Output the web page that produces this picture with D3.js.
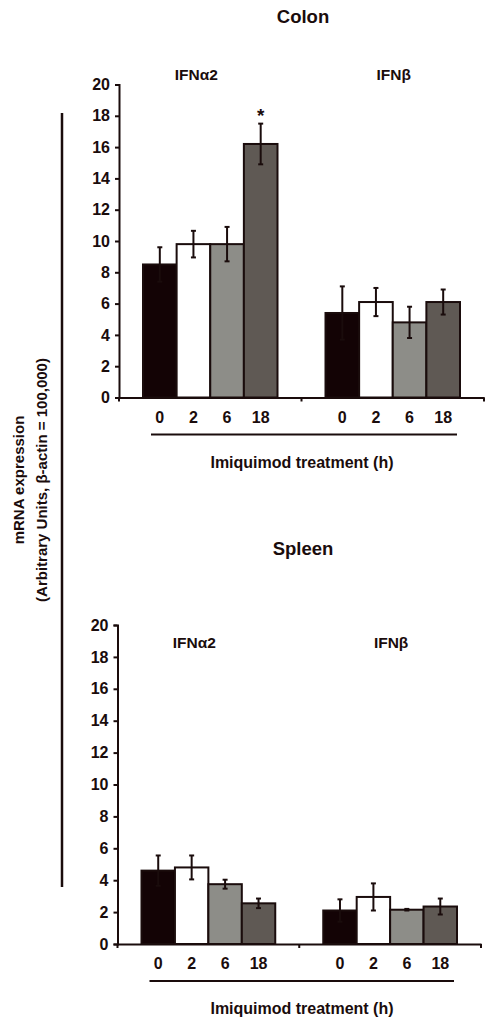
<!DOCTYPE html>
<html><head><meta charset="utf-8">
<script src="https://cdn.jsdelivr.net/npm/d3@7"></script>
<style>
body{margin:0;background:#fff;}
text{font-family:"Liberation Sans",Arial,sans-serif;font-weight:bold;fill:#1a0c0c;}
</style></head><body>
<svg id="c" width="490" height="1020"></svg>
<script>
const times = ["0","2","6","18"];
const genes = ["IFN\u03b12","IFN\u03b2"];
const yTicks = [0,2,4,6,8,10,12,14,16,18,20];
const colonAlpha = [8.5, 9.8, 9.8, 16.2];
const colonAlphaErr = [1.1, 0.85, 1.1, 1.3];
const colonBeta = [5.4, 6.1, 4.8, 6.1];
const colonBetaErr = [1.7, 0.9, 1.0, 0.8];
const spleenAlpha = [4.6, 4.8, 3.75, 2.55];
const spleenAlphaErr = [0.95, 0.75, 0.28, 0.3];
const spleenBeta = [2.1, 2.95, 2.15, 2.35];
const spleenBetaErr = [0.7, 0.85, 0.05, 0.5];
const colonSig = [false, false, false, true];
const fills = ["#130305", "#ffffff", "#8d8d88", "#5f5954"];
const ink = "#1a0c0c";

const svg = d3.select("#c");
const geneOffsets = [-14, 1];

function panel(cfg){
  const g = svg.append("g");
  const y = d3.scaleLinear().domain([0,20]).range([cfg.y0, cfg.y20]);
  const x = d3.scaleBand().domain(genes).range([cfg.xl, cfg.xr]).paddingInner(0).paddingOuter(0);
  const xb = d3.scaleBand().domain(times).range([24, x.bandwidth()-24]);
  // y axis
  const ya = g.append("g").attr("transform",`translate(${cfg.xl},0)`)
    .call(d3.axisLeft(y).tickValues(yTicks).tickSize(4).tickPadding(5));
  ya.select(".domain").attr("stroke",ink).attr("stroke-width",2);
  ya.selectAll(".tick line").attr("stroke",ink).attr("stroke-width",2);
  ya.selectAll(".tick text").attr("font-size",16).attr("font-family","Liberation Sans, Arial").attr("font-weight","bold").attr("fill",ink);
  // x axis
  const xa = g.append("g").attr("transform",`translate(0,${cfg.y0})`)
    .call(d3.axisBottom(x).tickValues([]).tickSizeOuter(0));
  xa.select(".domain").attr("stroke",ink).attr("stroke-width",2);
  const bounds = [cfg.xl, x(genes[1]), cfg.xr];
  xa.selectAll("line.sep").data(bounds).join("line").attr("class","sep")
    .attr("x1",d=>d).attr("x2",d=>d).attr("y1",0).attr("y2",4)
    .attr("stroke",ink).attr("stroke-width",2);
  const data = [];
  genes.forEach((gn,gi)=>{
    cfg.vals[gi].forEach((v,i)=>data.push({gene:gn,t:times[i],v:v,e:cfg.errs[gi][i],i:i,sig:cfg.sig?cfg.sig[gi][i]:false}));
  });
  const bars = g.append("g").selectAll("g").data(data).join("g")
    .attr("transform",d=>`translate(${x(d.gene)+xb(d.t)},0)`);
  bars.append("rect").attr("x",0).attr("width",xb.bandwidth())
    .attr("y",d=>y(d.v)).attr("height",d=>y(0)-y(d.v))
    .attr("fill",d=>fills[d.i]).attr("stroke",ink).attr("stroke-width",2);
  const cx = xb.bandwidth()/2;
  bars.append("line").attr("x1",cx).attr("x2",cx)
    .attr("y1",d=>y(d.v+d.e)).attr("y2",d=>y(d.v-d.e)).attr("stroke",ink).attr("stroke-width",2);
  bars.append("line").attr("x1",cx-2.5).attr("x2",cx+2.5)
    .attr("y1",d=>y(d.v+d.e)).attr("y2",d=>y(d.v+d.e)).attr("stroke",ink).attr("stroke-width",2);
  bars.append("line").attr("x1",cx-2.5).attr("x2",cx+2.5)
    .attr("y1",d=>y(d.v-d.e)).attr("y2",d=>y(d.v-d.e)).attr("stroke",ink).attr("stroke-width",2);
  bars.filter(d=>d.sig).append("text").attr("x",cx).attr("y",d=>y(d.v+d.e)-2)
    .attr("text-anchor","middle").attr("font-size",19).text("*");
  // time labels
  g.append("g").selectAll("text").data(data).join("text")
    .attr("x",d=>x(d.gene)+xb(d.t)+cx).attr("y",cfg.y0+25)
    .attr("text-anchor","middle").attr("font-size",16).text(d=>d.t);
  // underline
  g.append("line").attr("x1",x(genes[0])+xb(times[0])+8).attr("x2",x(genes[1])+xb(times[3])+xb.bandwidth()-3)
    .attr("y1",cfg.y0+37).attr("y2",cfg.y0+37).attr("stroke",ink).attr("stroke-width",2);
  g.append("text").attr("x",302).attr("y",cfg.y0+70).attr("text-anchor","middle").attr("font-size",16).text("Imiquimod treatment (h)");
  // gene labels
  g.append("g").selectAll("text").data(genes).join("text")
    .attr("x",(d,i)=>x(d)+x.bandwidth()/2+geneOffsets[i]).attr("y",cfg.geneY).attr("text-anchor","middle").attr("font-size",15.5).text(d=>d);
  g.append("text").attr("x",303).attr("y",cfg.titleY).attr("text-anchor","middle").attr("font-size",18.5).text(cfg.title);
}

panel({title:"Colon", titleY:23, geneY:80, y0:397.5, y20:84.5, xl:119, xr:484,
  vals:[colonAlpha,colonBeta], errs:[colonAlphaErr,colonBetaErr], sig:[colonSig,[false,false,false,false]]});
panel({title:"Spleen", titleY:555, geneY:648, y0:944, y20:625, xl:117.5, xr:481,
  vals:[spleenAlpha,spleenBeta], errs:[spleenAlphaErr,spleenBetaErr]});

// shared y-axis title
svg.append("line").attr("x1",62).attr("x2",62).attr("y1",113).attr("y2",887).attr("stroke",ink).attr("stroke-width",2.5);
const yt = svg.append("text").attr("transform","translate(0,480) rotate(-90)").attr("text-anchor","middle")
  .attr("font-size",15).style("font-family","'Liberation Sans Narrow','Liberation Sans',Arial");
yt.append("tspan").attr("x",0).attr("y",24).text("mRNA expression");
yt.append("tspan").attr("x",0).attr("y",47).text("(Arbitrary Units, \u03b2-actin = 100,000)");
</script></body></html>
